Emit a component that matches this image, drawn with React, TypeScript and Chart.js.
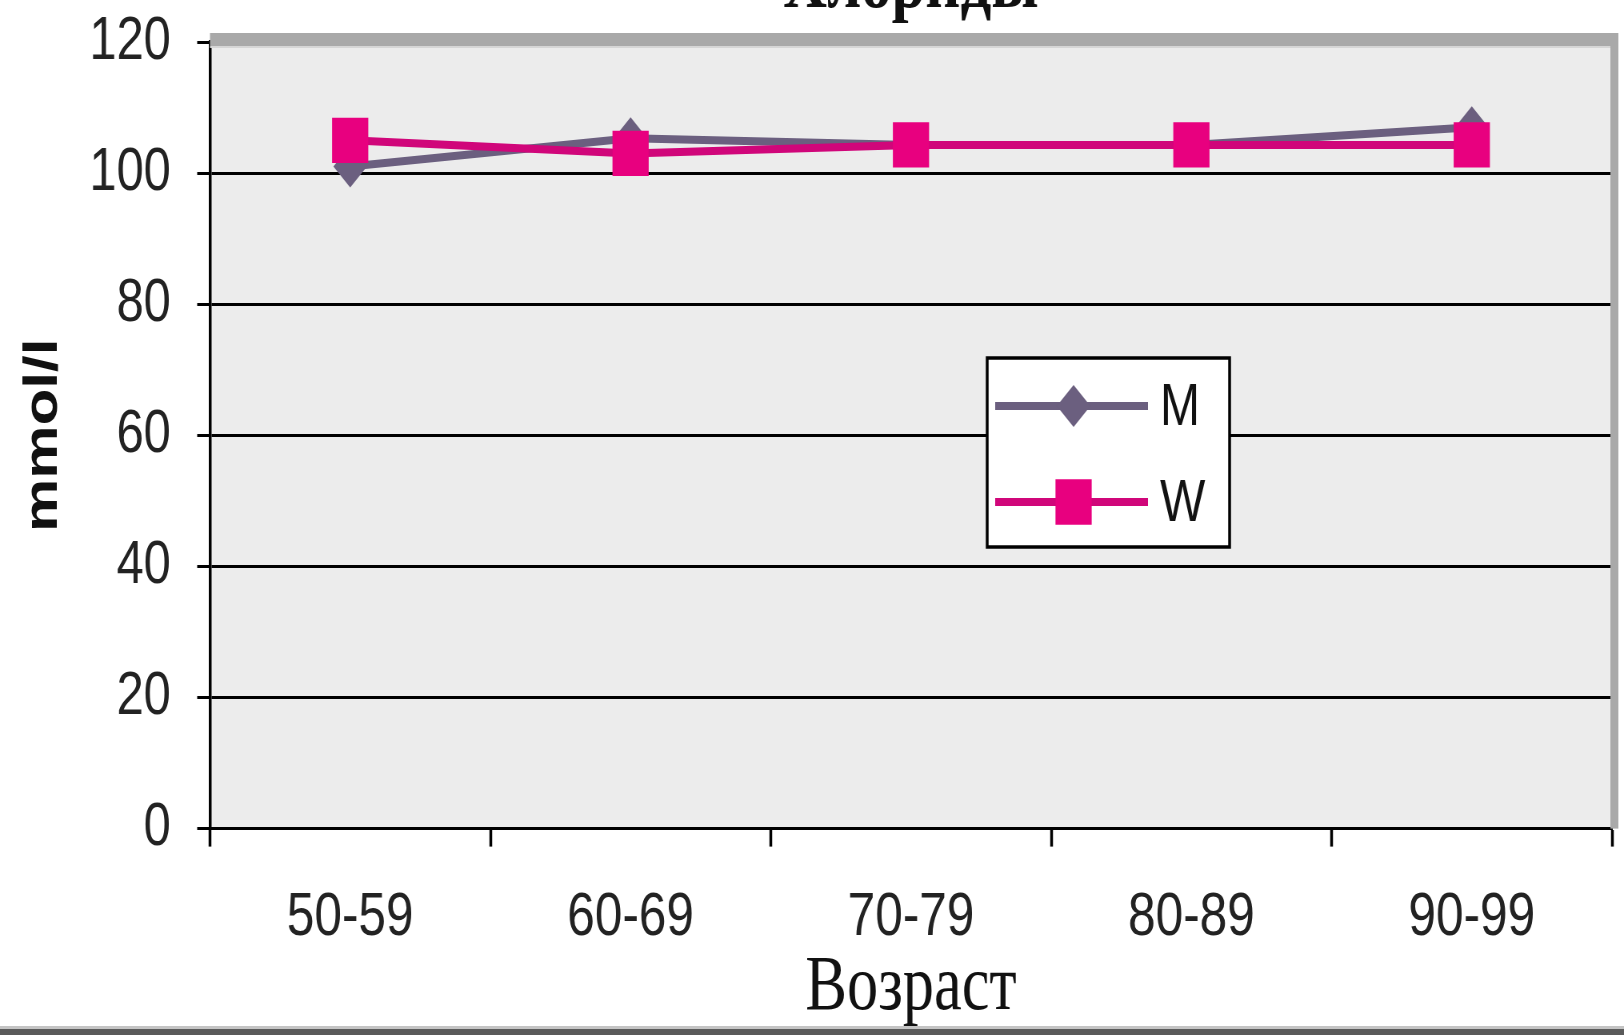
import { useEffect, useRef } from 'react';
import { Chart, registerables } from 'chart.js';

Chart.register(...registerables);

const categories = ['50-59', '60-69', '70-79', '80-89', '90-99'];
const seriesM = [101, 105.3, 104.3, 104.3, 107];
const seriesW = [105, 103, 104.3, 104.3, 104.3];
const yTicks = [0, 20, 40, 60, 80, 100, 120];
const titleText = 'Хлориды';
const xTitle = 'Возраст';
const yTitle = 'mmol/l';
const labelM = 'M';
const labelW = 'W';

const SX = 0.8;
const SHIFT = 70;
const CW = Math.round(1624 / SX);
const CH = 1035 + SHIFT;

const plotFrame = {
  id: 'plotFrame',
  beforeDraw(chart: any) {
    const { ctx, chartArea: a } = chart;
    ctx.save();
    ctx.fillStyle = '#ececec';
    ctx.fillRect(a.left, a.top, a.right - a.left, a.bottom - a.top);
    ctx.restore();
  },
  beforeDatasetsDraw(chart: any) {
    const { ctx, chartArea: a } = chart;
    ctx.save();
    ctx.fillStyle = '#a9a9a9';
    ctx.fillRect(a.left, a.top - 9, a.right - a.left + 8, 13);
    ctx.fillRect(a.right - 2, a.top - 9, 10, a.bottom - a.top + 9);
    ctx.fillStyle = '#d6d6d6';
    ctx.fillRect(a.left, a.top + 4, a.right - a.left - 2, 2);
    ctx.restore();
  },
  afterDraw(chart: any) {
    const { ctx, width, height } = chart;
    ctx.save();
    ctx.fillStyle = '#c4c4c4';
    ctx.fillRect(0, height - 9, width, 3);
    ctx.fillStyle = '#5a5a5a';
    ctx.fillRect(0, height - 6, width, 6);
    ctx.restore();
  },
};

const boxLegend = {
  id: 'boxLegend',
  afterDraw(chart: any) {
    const { ctx } = chart;
    const x0 = 1234, y0 = 428, x1 = 1537, y1 = 617;
    ctx.save();
    ctx.fillStyle = '#ffffff';
    ctx.fillRect(x0, y0, x1 - x0, y1 - y0);
    ctx.strokeStyle = '#000';
    ctx.lineWidth = 3.5;
    ctx.strokeRect(x0, y0, x1 - x0, y1 - y0);
    const rows = [476, 572];
    chart.data.datasets.forEach((ds: any, i: number) => {
      const y = rows[i];
      ctx.strokeStyle = ds.borderColor;
      ctx.lineWidth = 8;
      ctx.beginPath();
      ctx.moveTo(1244, y);
      ctx.lineTo(1435, y);
      ctx.stroke();
      const cx = 1342;
      const r = ds.pointRadius;
      ctx.fillStyle = ds.pointBackgroundColor;
      ctx.beginPath();
      if (ds.pointStyle === 'rectRot') {
        ctx.moveTo(cx, y - r);
        ctx.lineTo(cx + r, y);
        ctx.lineTo(cx, y + r);
        ctx.lineTo(cx - r, y);
        ctx.closePath();
      } else {
        const s = r * Math.SQRT1_2;
        ctx.rect(cx - s, y - s, 2 * s, 2 * s);
      }
      ctx.fill();
      ctx.fillStyle = '#111';
      ctx.font = '60px "Liberation Sans", Arial, sans-serif';
      ctx.textBaseline = 'middle';
      ctx.textAlign = 'left';
      ctx.fillText(ds.label, 1450, y + 2);
    });
    ctx.restore();
  },
};

export default function App() {
  const ref = useRef<HTMLCanvasElement | null>(null);

  useEffect(() => {
    if (!ref.current) return;
    const chart = new Chart(ref.current, {
      type: 'line',
      data: {
        labels: categories,
        datasets: [
          {
            label: labelM,
            data: seriesM,
            borderColor: '#6b5f7f',
            backgroundColor: '#6b5f7f',
            pointBackgroundColor: '#6b5f7f',
            pointBorderColor: '#6b5f7f',
            pointBorderWidth: 0,
            borderWidth: 8,
            pointStyle: 'rectRot',
            pointRadius: 21,
            tension: 0,
            order: 1,
          },
          {
            label: labelW,
            data: seriesW,
            borderColor: '#d0067a',
            backgroundColor: '#e8007f',
            pointBackgroundColor: '#e8007f',
            pointBorderColor: '#e8007f',
            pointBorderWidth: 0,
            borderWidth: 8,
            pointStyle: 'rect',
            pointRadius: 32,
            tension: 0,
            order: 0,
          },
        ],
      } as any,
      options: {
        responsive: false,
        animation: false,
        devicePixelRatio: 1,
        layout: { autoPadding: false, padding: { left: 0, right: 15, top: 0, bottom: 0 } },
        plugins: {
          legend: { display: false },
          tooltip: { enabled: false },
          title: {
            display: true,
            text: titleText,
            fullSize: false,
            color: '#111',
            font: { family: '"Liberation Serif", "Times New Roman", serif', size: 76, weight: 'bold', lineHeight: 1.2 },
            padding: { top: 12, bottom: 8.8 },
          },
        },
        scales: {
          x: {
            type: 'category',
            offset: true,
            afterFit: (s: any) => {
              s.height = CH - 898.6;
              s.paddingLeft = 0;
              s.paddingRight = 0;
            },
            grid: {
              offset: true,
              drawOnChartArea: false,
              drawTicks: true,
              tickLength: 18,
              tickColor: '#000',
              tickWidth: 3.5,
            },
            border: { display: true, color: '#000', width: 3 },
            ticks: {
              color: '#222',
              font: { family: '"Liberation Sans", Arial, sans-serif', size: 62, lineHeight: 1.2 },
              padding: 34,
              maxRotation: 0,
              autoSkip: false,
            },
            title: {
              display: true,
              text: xTitle,
              color: '#111',
              font: { family: '"Liberation Serif", "Times New Roman", serif', size: 78, lineHeight: 1.2 },
              padding: { top: 0, bottom: 0 },
            },
          },
          y: {
            min: 0,
            max: 120,
            afterFit: (s: any) => { s.width = 262.5; },
            afterBuildTicks: (s: any) => { s.ticks = yTicks.map((v) => ({ value: v })); },
            grid: {
              color: (c: any) => (c.tick && c.tick.value === 120 ? 'rgba(0,0,0,0)' : '#000'),
              lineWidth: 3,
              drawTicks: true,
              tickLength: 16,
              tickColor: '#000',
              tickWidth: 3,
            },
            border: { display: true, color: '#000', width: 3.5 },
            ticks: {
              color: '#222',
              font: { family: '"Liberation Sans", Arial, sans-serif', size: 61, lineHeight: 1.2 },
              padding: 33,
            },
            title: {
              display: true,
              text: yTitle,
              color: '#111',
              font: { family: '"Liberation Sans", Arial, sans-serif', size: 60, weight: 'bold', lineHeight: 1.2 },
              padding: { top: 18, bottom: 0 },
            },
          },
        },
      } as any,
      plugins: [plotFrame, boxLegend],
    });
    return () => chart.destroy();
  }, []);

  return (
    <div style={{ position: 'fixed', left: 0, top: 0, width: 1624, height: 1035, overflow: 'hidden', background: '#fff' }}>
      <div style={{ position: 'absolute', left: 0, top: -SHIFT, width: CW, height: CH, transform: `scaleX(${SX})`, transformOrigin: '0 0' }}>
        <canvas ref={ref} width={CW} height={CH} style={{ display: 'block', width: CW, height: CH }} />
      </div>
    </div>
  );
}
